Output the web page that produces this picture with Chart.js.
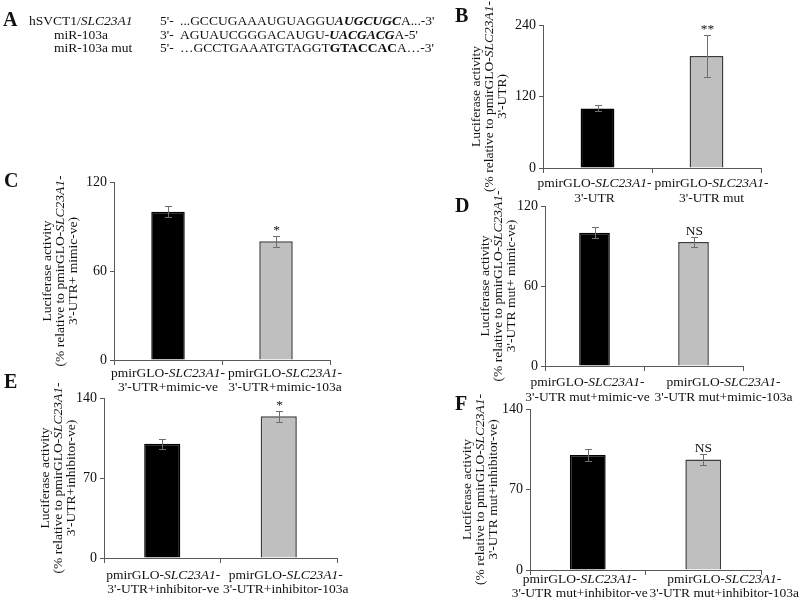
<!DOCTYPE html>
<html>
<head>
<meta charset="utf-8">
<script src="https://cdn.jsdelivr.net/npm/chart.js@4.4.1/dist/chart.umd.min.js"></script>
<style>
  html, body { margin: 0; padding: 0; background: #fff; }
  #wrap { position: relative; width: 800px; height: 604px; overflow: hidden; }
  #wrap canvas { position: absolute; left: 0; top: 0; }
</style>
</head>
<body>
<div id="wrap"></div>
<script>
// ---- data ----
const groupsB = [["pmirGLO-<i>SLC23A1</i>-", "3'-UTR"], ["pmirGLO-<i>SLC23A1</i>-", "3'-UTR mut"]];
const valuesB = [100, 188];
const errorsB = [5, 35];
const signifB = ["", "**"];
const ticksB = [0, 120, 240];
const titleB = ["Luciferase activity", "(% relative to pmirGLO-<i>SLC23A1</i>-", "3'-UTR)"];

const groupsC = [["pmirGLO-<i>SLC23A1</i>-", "3'-UTR+mimic-ve"], ["pmirGLO-<i>SLC23A1</i>-", "3'-UTR+mimic-103a"]];
const valuesC = [100, 80];
const errorsC = [3.5, 3.5];
const signifC = ["", "*"];
const ticksC = [0, 60, 120];
const titleC = ["Luciferase activity", "(% relative to pmirGLO-<i>SLC23A1</i>-", "3'-UTR+ mimic-ve)"];

const groupsD = [["pmirGLO-<i>SLC23A1</i>-", "3'-UTR mut+mimic-ve"], ["pmirGLO-<i>SLC23A1</i>-", "3'-UTR mut+mimic-103a"]];
const valuesD = [100, 93];
const errorsD = [4, 3.5];
const signifD = ["", "NS"];
const ticksD = [0, 60, 120];
const titleD = ["Luciferase activity", "(% relative to pmirGLO-<i>SLC23A1</i>-", "3'-UTR mut+ mimic-ve)"];

const groupsE = [["pmirGLO-<i>SLC23A1</i>-", "3'-UTR+inhibitor-ve"], ["pmirGLO-<i>SLC23A1</i>-", "3'-UTR+inhibitor-103a"]];
const valuesE = [100, 124];
const errorsE = [4.5, 5];
const signifE = ["", "*"];
const ticksE = [0, 70, 140];
const titleE = ["Luciferase activity", "(% relative to pmirGLO-<i>SLC23A1</i>-", "3'-UTR+inhibitor-ve)"];

const groupsF = [["pmirGLO-<i>SLC23A1</i>-", "3'-UTR mut+inhibitor-ve"], ["pmirGLO-<i>SLC23A1</i>-", "3'-UTR mut+inhibitor-103a"]];
const valuesF = [100, 96];
const errorsF = [5.5, 5];
const signifF = ["", "NS"];
const ticksF = [0, 70, 140];
const titleF = ["Luciferase activity", "(% relative to pmirGLO-<i>SLC23A1</i>-", "3'-UTR mut+inhibitor-ve)"];

// panel A: sequence alignment
const seqNames = ["hSVCT1/<i>SLC23A1</i>", "miR-103a", "miR-103a mut"];
const seqEnds = ["5'-", "3'-", "5'-"];
const seqTexts = [
  "...GCCUGAAAUGUAGGU<b><i>AUGCUGC</i></b>A...-3'",
  "AGUAUCGGGACAUGU-<b><i>UACGACG</i></b>A-5'",
  "…GCCTGAAATGTAGGT<b>GTACCAC</b>A…-3'"
];

// ---- styling / layout ----
const FONT = '"Liberation Serif", "Times New Roman", serif';
const TEXT = "#111";
const AXIS = "#595959";
const BAR_COLORS = ["#000000", "#bfbfbf"];
const BAR_BORDERS = ["#000000", "#3c3c3c"];
const YW = 40;  // width reserved for y tick labels
const XH = 6;   // height of x axis (tick marks only)

const layouts = {
  B: { axisX: 543, axisRight: 761, top: 25, zero: 168, titleX: [476, 489, 502], labelDY: [15, 30], labelDX: [-3, 5] },
  C: { axisX: 114, axisRight: 330, top: 182, zero: 360, titleX: [47, 60, 73], labelDY: [13, 27], labelDX: [0, 9] },
  D: { axisX: 545, axisRight: 743, top: 206, zero: 366, titleX: [485, 498, 511], labelDY: [16, 31], labelDX: [-7, 30] },
  E: { axisX: 104, axisRight: 337, top: 398, zero: 558, titleX: [45, 58, 71], labelDY: [17, 31], labelDX: [1, 7] },
  F: { axisX: 530, axisRight: 761, top: 409, zero: 570, titleX: [467, 480, 493], labelDY: [9, 23], labelDX: [-8, 21] }
};

const panels = [
  { id: "B", groups: groupsB, values: valuesB, errors: errorsB, signif: signifB, ticks: ticksB, title: titleB },
  { id: "C", groups: groupsC, values: valuesC, errors: errorsC, signif: signifC, ticks: ticksC, title: titleC },
  { id: "D", groups: groupsD, values: valuesD, errors: errorsD, signif: signifD, ticks: ticksD, title: titleD },
  { id: "E", groups: groupsE, values: valuesE, errors: errorsE, signif: signifE, ticks: ticksE, title: titleE },
  { id: "F", groups: groupsF, values: valuesF, errors: errorsF, signif: signifF, ticks: ticksF, title: titleF }
];

// letters: x, baseline
const letterPos = { A: [3, 26], B: [455, 22], C: [4, 187], D: [455, 212], E: [4, 388], F: [455, 410] };

// ---- rich text helpers (<i>, <b>) ----
function splitRich(str) {
  const out = [];
  let b = false, i = false;
  str.split(/(<\/?[ib]>)/).forEach((p) => {
    if (p === "<i>") i = true;
    else if (p === "</i>") i = false;
    else if (p === "<b>") b = true;
    else if (p === "</b>") b = false;
    else if (p) out.push({ t: p, b: b, i: i });
  });
  return out;
}

function segFont(seg, size) {
  return (seg.i ? "italic " : "") + (seg.b ? "bold " : "") + size + "px " + FONT;
}

function drawRich(ctx, str, x, y, size, align) {
  const segs = splitRich(str);
  let w = 0;
  segs.forEach((s) => { ctx.font = segFont(s, size); s.w = ctx.measureText(s.t).width; w += s.w; });
  let cx = align === "center" ? x - w / 2 : align === "right" ? x - w : x;
  ctx.textAlign = "left";
  segs.forEach((s) => { ctx.font = segFont(s, size); ctx.fillText(s.t, cx, y); cx += s.w; });
}

function panelPlugin(p, l) {
  return {
    id: "panel" + p.id,
    afterDatasetsDraw(chart) {
      const ctx = chart.ctx;
      const y = chart.scales.y;
      const meta = chart.getDatasetMeta(0);
      ctx.save();
      ctx.strokeStyle = "#6e6e6e";
      ctx.lineWidth = 1;
      meta.data.forEach((bar, i) => {
        const hi = Math.round(y.getPixelForValue(p.values[i] + p.errors[i])) + 0.5;
        const lo = Math.round(y.getPixelForValue(p.values[i] - p.errors[i])) + 0.5;
        const x = Math.round(bar.x) + 0.5;
        ctx.beginPath();
        ctx.moveTo(x, hi); ctx.lineTo(x, lo);
        ctx.moveTo(x - 3.5, hi); ctx.lineTo(x + 3.5, hi);
        ctx.moveTo(x - 3.5, lo); ctx.lineTo(x + 3.5, lo);
        ctx.stroke();
        if (p.signif[i]) {
          ctx.fillStyle = TEXT;
          ctx.font = "13.5px " + FONT;
          ctx.textAlign = "center";
          ctx.textBaseline = "alphabetic";
          ctx.fillText(p.signif[i], x, hi - 3);
        }
      });
      ctx.restore();
    },
    afterDraw(chart) {
      const ctx = chart.ctx;
      const xs = chart.scales.x;
      const area = chart.chartArea;
      ctx.save();
      ctx.fillStyle = TEXT;
      ctx.textBaseline = "middle";
      // category labels
      p.groups.forEach((lines, i) => {
        const cx = xs.getPixelForValue(i) + l.labelDX[i];
        lines.forEach((line, k) => drawRich(ctx, line, cx, area.bottom + l.labelDY[k], 13.5, "center"));
      });
      // rotated y title
      const cy = (area.top + area.bottom) / 2;
      p.title.forEach((line, k) => {
        ctx.save();
        ctx.translate(l.titleX[k], cy);
        ctx.rotate(-Math.PI / 2);
        drawRich(ctx, line, 0, 0, 13.5, "center");
        ctx.restore();
      });
      ctx.restore();
    }
  };
}

// letters and panel A text
const headerPlugin = {
  id: "header",
  afterDraw(chart) {
    const ctx = chart.ctx;
    ctx.save();
    ctx.fillStyle = TEXT;
    ctx.textBaseline = "alphabetic";
    Object.keys(letterPos).forEach((k) => {
      ctx.font = "bold 20px " + FONT;
      ctx.textAlign = "left";
      ctx.fillText(k, letterPos[k][0], letterPos[k][1]);
    });
    const baselines = [25, 38.5, 52];
    const nameX = [29, 54, 54];
    seqNames.forEach((n, i) => {
      drawRich(ctx, n, nameX[i], baselines[i], 13.5, "left");
      drawRich(ctx, seqEnds[i], 160, baselines[i], 13.5, "left");
      drawRich(ctx, seqTexts[i], 180, baselines[i], 13.5, "left");
    });
    ctx.restore();
  }
};

const wrap = document.getElementById("wrap");

panels.forEach((p) => {
  const l = layouts[p.id];
  const canvas = document.createElement("canvas");
  canvas.width = 800;
  canvas.height = 604;
  wrap.appendChild(canvas);
  const plugins = [panelPlugin(p, l)];
  if (p.id === "B") plugins.push(headerPlugin);
  new Chart(canvas, {
    type: "bar",
    data: {
      labels: p.groups.map((g) => g.join(" ").replace(/<\/?[ib]>/g, "")),
      datasets: [{
        data: p.values,
        backgroundColor: BAR_COLORS,
        borderColor: BAR_BORDERS,
        borderWidth: 1.5,
        barPercentage: 0.31,
        categoryPercentage: 1
      }]
    },
    options: {
      responsive: false,
      animation: false,
      events: [],
      layout: {
        padding: { left: l.axisX - YW, right: 800 - l.axisRight, top: l.top, bottom: 604 - l.zero - XH }
      },
      plugins: { legend: { display: false }, tooltip: { enabled: false } },
      scales: {
        x: {
          grid: { drawOnChartArea: false, drawTicks: true, tickLength: 5, color: AXIS, offset: true },
          border: { color: AXIS, width: 1 },
          ticks: { display: false },
          afterFit: (s) => { s.height = XH; }
        },
        y: {
          min: 0,
          max: p.ticks[p.ticks.length - 1],
          afterBuildTicks: (s) => { s.ticks = p.ticks.map((v) => ({ value: v })); },
          grid: { drawOnChartArea: false, tickLength: 4, color: AXIS },
          border: { color: AXIS, width: 1 },
          ticks: { font: { family: FONT, size: 14 }, color: TEXT, padding: 3 },
          afterFit: (s) => { s.width = YW; }
        }
      }
    },
    plugins: plugins
  });
});
</script>
</body>
</html>
